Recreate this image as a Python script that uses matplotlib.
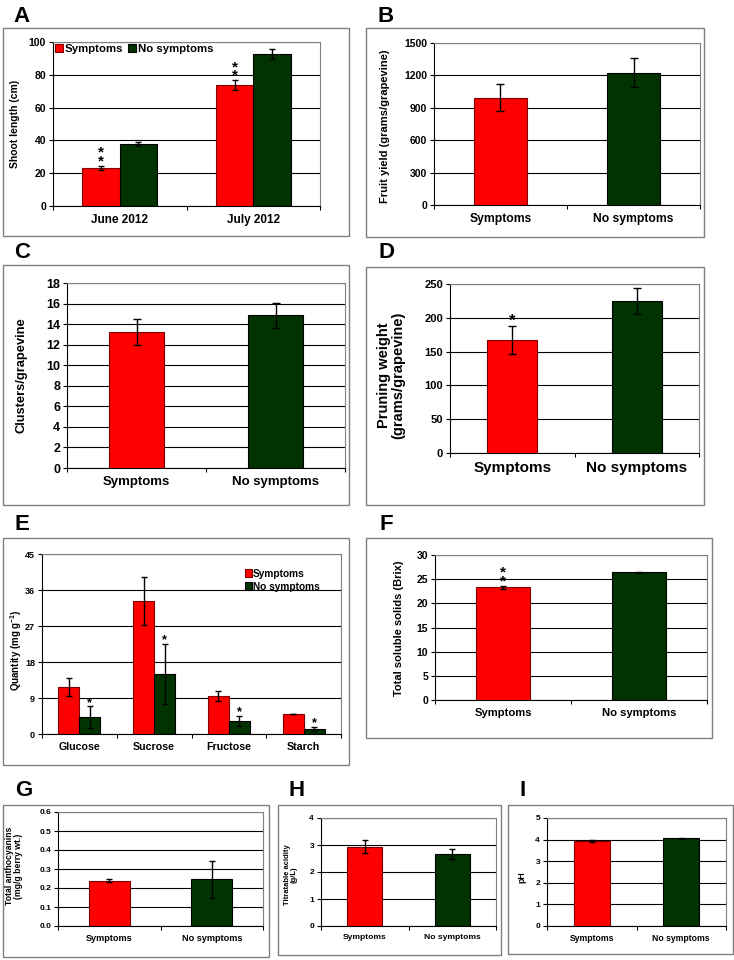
import numpy as np
import matplotlib
matplotlib.use('Agg')
import matplotlib.pyplot as plt
from matplotlib.patches import Rectangle

# ---- data ----
months = ['June 2012', 'July 2012']
shoot_sym = [23.2, 73.8]
shoot_sym_err = [1.3, 3.0]
shoot_no = [37.8, 92.7]
shoot_no_err = [1.0, 3.2]

groups = ['Symptoms', 'No symptoms']
fruit_yield = [995, 1225]
fruit_yield_err = [125, 135]
clusters = [13.25, 14.85]
clusters_err = [1.27, 1.2]
pruning = [167, 225]
pruning_err = [21, 19.5]

sugars = ['Glucose', 'Sucrose', 'Fructose', 'Starch']
sugar_sym = [11.7, 33.3, 9.5, 5.0]
sugar_sym_err = [2.3, 6.0, 1.3, 0.0]
sugar_no = [4.2, 15.0, 3.25, 1.25]
sugar_no_err = [2.7, 7.5, 1.3, 0.45]

tss = [23.3, 26.45]
tss_err = [0.3, 0.12]
anthocyanins = [0.237, 0.246]
anthocyanins_err = [0.008, 0.097]
acidity = [2.93, 2.67]
acidity_err = [0.24, 0.18]
ph = [3.95, 4.06]
ph_err = [0.04, 0.02]

RED = '#ff0000'
GREEN = '#003300'
W, H = 734, 960

plt.rcParams['font.family'] = ['Liberation Sans', 'DejaVu Sans']
plt.rcParams['font.weight'] = 'bold'
plt.rcParams['mathtext.fontset'] = 'custom'
plt.rcParams['mathtext.rm'] = 'Liberation Sans:bold'
plt.rcParams['mathtext.it'] = 'Liberation Sans:bold'
plt.rcParams['mathtext.bf'] = 'Liberation Sans:bold'

fig = plt.figure(figsize=(W / 100, H / 100), dpi=100)


def fx(x):
    return x / W


def fy(y):
    return 1 - y / H


def panel(plot_box, frame_box, letter, letter_xy, ncat, ymax, step, tick_fs, xlab_fs):
    # outer grey frame + panel letter
    a, b, c, d = frame_box
    fig.patches.append(Rectangle((fx(a), fy(d)), (c - a) / W, (d - b) / H,
                                 transform=fig.transFigure, fill=False,
                                 edgecolor='#7f7f7f', lw=1.0))
    fig.text(fx(letter_xy[0]), fy(letter_xy[1]), letter, fontsize=16,
             fontweight='heavy', ha='center', va='center')
    x0, y0, x1, y1 = plot_box
    ax = fig.add_axes([fx(x0), fy(y1), (x1 - x0) / W, (y1 - y0) / H])
    ax.set_xlim(-0.5, ncat - 0.5)
    ax.set_ylim(0, ymax)
    ax.set_yticks(np.arange(0, ymax + step / 2, step))
    ax.yaxis.grid(True, color='black', lw=0.8)
    ax.set_axisbelow(True)
    ax.set_xticks(range(ncat))
    ax.set_xticks(np.arange(-0.5, ncat), minor=True)
    ax.tick_params(axis='x', which='major', length=0, labelsize=xlab_fs, pad=6)
    ax.tick_params(axis='x', which='minor', length=3, direction='out', width=0.8)
    ax.tick_params(axis='y', length=3, direction='out', width=0.8, labelsize=tick_fs, pad=2)
    for s in ['top', 'right']:
        ax.spines[s].set_color('#7f7f7f')
    for s in ['left', 'bottom']:
        ax.spines[s].set_color('black')
    for s in ax.spines.values():
        s.set_linewidth(0.8)
    return ax


def two_bars(ax, vals, errs, cap=3):
    ax.bar(range(2), vals, width=0.4, color=[RED, GREEN],
           edgecolor=['#800000', 'black'], lw=0.8,
           yerr=errs, error_kw=dict(ecolor='black', elinewidth=1, capsize=cap, capthick=1))


def ylabel(x, y, text, fs):
    fig.text(fx(x), fy(y), text, rotation=90, ha='center', va='center',
             fontsize=fs, fontweight='bold', linespacing=1.0)


# ---- A ----
ax = panel((53, 42, 320, 206), (3, 28, 349, 236), 'A', (22, 17), 2, 100, 20, 7.5, 8.5)
w = 0.28
x = np.arange(2)
ax.bar(x - w / 2, shoot_sym, w, color=RED, edgecolor='#800000', lw=0.8, label='Symptoms',
       yerr=shoot_sym_err, error_kw=dict(ecolor='black', elinewidth=1, capsize=2, capthick=1))
ax.bar(x + w / 2, shoot_no, w, color=GREEN, edgecolor='black', lw=0.8, label='No symptoms',
       yerr=shoot_no_err, error_kw=dict(ecolor='black', elinewidth=1, capsize=2, capthick=1))
ax.set_xticklabels(months)
for i in range(2):
    ax.text(x[i] - w / 2, shoot_sym[i] + shoot_sym_err[i] - 1.5, '*\n*', ha='center', va='bottom',
            fontsize=11, linespacing=0.5)
ax.legend(loc='upper left', ncol=2, frameon=False, fontsize=8.2, handlelength=0.7,
          handleheight=0.7, handletextpad=0.15, columnspacing=0.4, borderaxespad=0.1,
          borderpad=0.1)
ylabel(15, 124, 'Shoot length (cm)', 7.5)

# ---- B ----
ax = panel((434, 43, 700, 205), (366, 28, 704, 237), 'B', (386, 17), 2, 1500, 300, 7.5, 8.7)
two_bars(ax, fruit_yield, fruit_yield_err)
ax.set_xticklabels(groups)
ylabel(385, 126, 'Fruit yield (grams/grapevine)', 8)

# ---- C ----
ax = panel((67, 283, 345, 468), (3, 265, 349, 505), 'C', (22, 253), 2, 18, 2, 9, 9.5)
two_bars(ax, clusters, clusters_err)
ax.set_xticklabels(groups)
ylabel(22, 375, 'Clusters/grapevine', 9.3)

# ---- D ----
ax = panel((450, 284, 699, 453), (366, 267, 704, 505), 'D', (386, 253), 2, 250, 50, 8, 11)
two_bars(ax, pruning, pruning_err)
ax.set_xticklabels(groups)
ax.text(0, pruning[0] + pruning_err[0] - 4, '*', ha='center', va='bottom', fontsize=12)
ylabel(391, 375, 'Pruning weight\n(grams/grapevine)', 10.5)

# ---- E ----
ax = panel((42, 554, 341, 734), (3, 538, 349, 765), 'E', (22, 525), 4, 45, 9, 6.5, 7.7)
x = np.arange(4)
ax.bar(x - w / 2, sugar_sym, w, color=RED, edgecolor='#800000', lw=0.8, label='Symptoms',
       yerr=sugar_sym_err, error_kw=dict(ecolor='black', elinewidth=1, capsize=2, capthick=1))
ax.bar(x + w / 2, sugar_no, w, color=GREEN, edgecolor='black', lw=0.8, label='No symptoms',
       yerr=sugar_no_err, error_kw=dict(ecolor='black', elinewidth=1, capsize=2, capthick=1))
ax.set_xticklabels(sugars)
for i in range(4):
    ax.text(x[i] + w / 2, sugar_no[i] + sugar_no_err[i] - 0.6, '*', ha='center', va='bottom',
            fontsize=9)
ax.legend(loc='upper right', bbox_to_anchor=(0.96, 0.97), frameon=False, fontsize=7.3,
          handlelength=0.7, handleheight=0.7, handletextpad=0.15, labelspacing=0.3)
ylabel(16, 650, 'Quantity (mg g$^{-1}$)', 7)

# ---- F ----
ax = panel((435, 555, 707, 700), (366, 538, 712, 738), 'F', (386, 525), 2, 30, 5, 7.5, 8.1)
two_bars(ax, tss, tss_err, cap=2)
ax.set_xticklabels(groups)
ax.text(0, tss[0] + tss_err[0] - 0.5, '*\n*', ha='center', va='bottom', fontsize=11,
        linespacing=0.5)
ylabel(399, 628, 'Total soluble solids (Brix)', 8)

# ---- G ----
ax = panel((58, 812, 263, 926), (3, 805, 269, 957), 'G', (24, 791), 2, 0.6, 0.1, 6, 6.6)
two_bars(ax, anthocyanins, anthocyanins_err, cap=2)
ax.set_xticklabels(groups)
ax.yaxis.set_major_formatter(matplotlib.ticker.FormatStrFormatter('%.1f'))
ylabel(14, 866, 'Total anthocyanins\n(mg/g berry wt.)', 6.2)

# ---- H ----
ax = panel((321, 818, 496, 926), (278, 805, 501, 955), 'H', (297, 791), 2, 4, 1, 6, 6.1)
two_bars(ax, acidity, acidity_err, cap=2)
ax.set_xticklabels(groups)
ylabel(291, 875, 'Titratable acidity\n(g/L)', 5.5)

# ---- I ----
ax = panel((547, 818, 726, 926), (508, 805, 733, 954), 'I', (523, 791), 2, 5, 1, 6, 6.2)
two_bars(ax, ph, ph_err, cap=2)
ax.set_xticklabels(groups)
ylabel(522, 877, 'pH', 6.2)

fig.savefig('out.png', dpi=100)
